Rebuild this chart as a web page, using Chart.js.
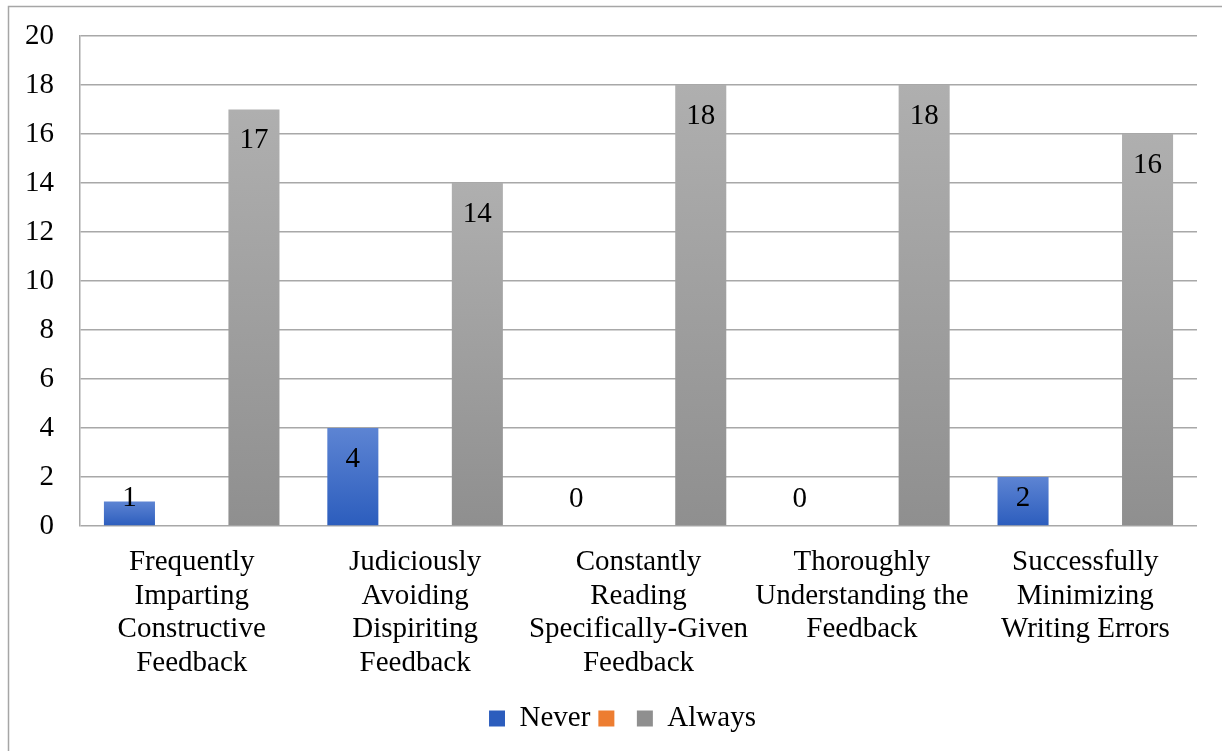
<!DOCTYPE html>
<html>
<head>
<meta charset="utf-8">
<script src="https://cdn.jsdelivr.net/npm/chart.js@4/dist/chart.umd.min.js"></script>
<style>
  html, body { margin: 0; padding: 0; background: #fff; }
  #wrap { position: relative; width: 1222px; height: 751px; }
</style>
</head>
<body>
<div id="wrap"><canvas id="c" width="1222" height="751"></canvas></div>
<script>
// Survey responses per feedback practice
const categories = [
  ["Frequently", "Imparting", "Constructive", "Feedback"],
  ["Judiciously", "Avoiding", "Dispiriting", "Feedback"],
  ["Constantly", "Reading", "Specifically-Given", "Feedback"],
  ["Thoroughly", "Understanding the", "Feedback"],
  ["Successfully", "Minimizing", "Writing Errors"]
];
const seriesNames = ["Never", "", "Always"];
const neverValues = [1, 4, 0, 0, 2];
const middleValues = [null, null, null, null, null];
const alwaysValues = [17, 14, 18, 18, 16];
const yTicks = [0, 2, 4, 6, 8, 10, 12, 14, 16, 18, 20];

const FONT = "'Liberation Serif', 'Times New Roman', serif";
const FS = 29;

// vertical gradient across each bar, lighter on top
function barFill(light, dark, solid) {
  return function (ctx) {
    if (ctx.type !== 'data') return solid;
    const chart = ctx.chart;
    const y = chart.scales.y;
    if (!chart.chartArea || !y || ctx.raw == null) return solid;
    const top = y.getPixelForValue(ctx.raw);
    const base = y.getPixelForValue(0);
    if (base - top < 1) return solid;
    const g = chart.ctx.createLinearGradient(0, top, 0, base);
    g.addColorStop(0, light);
    g.addColorStop(1, dark);
    return g;
  };
}

// outer frame around the whole chart
const framePlugin = {
  id: 'frame',
  beforeDraw(chart) {
    const c = chart.ctx;
    c.save();
    c.strokeStyle = '#a6a6a6';
    c.lineWidth = 1.5;
    c.strokeRect(8.5, 6.5, 1400, 1000);
    c.restore();
  }
};

// centre the legend on the full frame width rather than the plot width
const legendShift = {
  id: 'legendShift',
  afterLayout(chart) {
    if (chart.legend) {
      chart.legend.left += 24;
      chart.legend.right += 24;
    }
  }
};

// value labels inside the top of each bar
const valueLabels = {
  id: 'valueLabels',
  afterDatasetsDraw(chart) {
    const c = chart.ctx;
    c.save();
    c.font = FS + 'px ' + FONT;
    c.fillStyle = '#000';
    c.textAlign = 'center';
    c.textBaseline = 'middle';
    chart.data.datasets.forEach((ds, di) => {
      const meta = chart.getDatasetMeta(di);
      if (meta.hidden) return;
      meta.data.forEach((bar, i) => {
        const v = ds.data[i];
        if (v == null) return;
        const ly = Math.min(bar.y + 31, bar.base - 27);
        c.fillText(String(v), bar.x, ly);
      });
    });
    c.restore();
  }
};

new Chart(document.getElementById('c'), {
  type: 'bar',
  data: {
    labels: categories,
    datasets: [
      {
        label: seriesNames[0],
        data: neverValues,
        backgroundColor: barFill('#5d84d3', '#2c5dbd', '#4472c4'),
        categoryPercentage: 0.836,
        barPercentage: 0.82
      },
      {
        label: seriesNames[1],
        data: middleValues,
        backgroundColor: barFill('#f4904a', '#e46c1e', '#ed7d31'),
        categoryPercentage: 0.836,
        barPercentage: 0.82
      },
      {
        label: seriesNames[2],
        data: alwaysValues,
        backgroundColor: barFill('#afafaf', '#8f8f8f', '#a5a5a5'),
        categoryPercentage: 0.836,
        barPercentage: 0.82
      }
    ]
  },
  options: {
    responsive: false,
    animation: false,
    devicePixelRatio: 1,
    layout: { padding: { left: 0, top: 36, right: 25, bottom: 8 } },
    plugins: {
      legend: {
        position: 'bottom',
        labels: {
          font: { family: FONT, size: FS },
          color: '#000',
          boxWidth: 16,
          boxHeight: 16,
          padding: 8
        }
      },
      tooltip: { enabled: false }
    },
    scales: {
      x: {
        afterFit(scale) { scale.height = 170; },
        grid: { display: false, drawTicks: false },
        border: { display: false },
        ticks: {
          font: { family: FONT, size: FS, lineHeight: 1.155 },
          color: '#000',
          padding: 20,
          autoSkip: false,
          maxRotation: 0,
          minRotation: 0
        }
      },
      y: {
        min: 0,
        max: 20,
        afterFit(scale) { scale.width = 80; },
        afterBuildTicks(scale) { scale.ticks = yTicks.map(v => ({ value: v })); },
        grid: {
          color: '#a8a8a8',
          lineWidth: 1.5,
          drawTicks: true,
          tickLength: 26,
          tickColor: 'rgba(0,0,0,0)'
        },
        border: { display: true, color: '#a8a8a8', width: 1.5 },
        ticks: {
          font: { family: FONT, size: FS },
          color: '#000',
          padding: 0
        }
      }
    }
  },
  plugins: [framePlugin, legendShift, valueLabels]
});
</script>
</body>
</html>
